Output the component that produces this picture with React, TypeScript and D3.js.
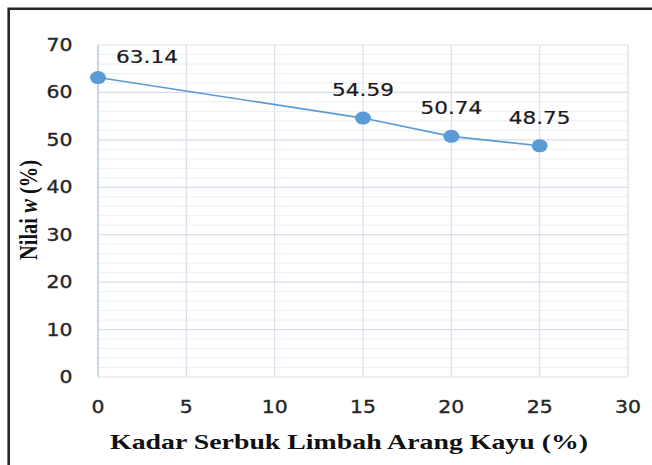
import * as React from 'react';
import * as d3 from 'd3';

// kadar serbuk limbah arang kayu (%)
const kadar = [0, 15, 20, 25];
// nilai w (%)
const nilaiW = [63.14, 54.59, 50.74, 48.75];
const xTicks = [0, 5, 10, 15, 20, 25, 30];
const yTicks = [0, 10, 20, 30, 40, 50, 60, 70];
const xTitle = 'Kadar Serbuk Limbah Arang Kayu (%)';

const width = 652;
const height = 465;
const plot = { left: 98, right: 628, top: 45, bottom: 377 };
const stretch = 1.2;
const lineColor = '#5b9bd5';

const App = () => {
    const node = React.useRef<SVGSVGElement | null>(null);

    React.useEffect(() => {
        const svg = d3.select(node.current);
        svg.selectAll('*').remove();

        const xScale = d3.scaleLinear().domain([0, 30]).range([plot.left, plot.right]);
        const yScale = d3.scaleLinear().domain([0, 70]).range([plot.bottom, plot.top]);

        svg.append('rect')
            .attr('width', width)
            .attr('height', height)
            .attr('fill', '#fff');

        // frame (only top and left visible)
        svg.append('path')
            .attr('d', `M8.7,${height} V8.7 H${width}`)
            .attr('fill', 'none')
            .attr('stroke', '#262626')
            .attr('stroke-width', 2.6);

        // minor horizontal grid every 2
        const minor = d3.range(0, 71, 2).filter(v => v % 10 !== 0);
        svg.append('g').selectAll('line')
            .data(minor)
            .join('line')
            .attr('x1', plot.left).attr('x2', plot.right)
            .attr('y1', d => yScale(d)).attr('y2', d => yScale(d))
            .attr('stroke', '#eceff5')
            .attr('stroke-width', 1);

        svg.append('g').selectAll('line')
            .data(yTicks)
            .join('line')
            .attr('x1', plot.left).attr('x2', plot.right)
            .attr('y1', d => yScale(d)).attr('y2', d => yScale(d))
            .attr('stroke', '#d9dfea')
            .attr('stroke-width', 1.2);

        svg.append('g').selectAll('line')
            .data(xTicks)
            .join('line')
            .attr('x1', d => xScale(d)).attr('x2', d => xScale(d))
            .attr('y1', plot.top).attr('y2', plot.bottom)
            .attr('stroke', d => d === 0 ? '#bccbe2' : '#d9dfea')
            .attr('stroke-width', d => d === 0 ? 1.6 : 1.2);

        // tick labels
        svg.append('g').selectAll('text')
            .data(yTicks)
            .join('text')
            .attr('transform', d => `translate(72.5,${yScale(d) + 6}) scale(${stretch},1)`)
            .attr('text-anchor', 'end')
            .attr('font-family', 'DejaVu Sans, sans-serif')
            .attr('font-size', 17)
            .attr('fill', '#262626')
            .attr('stroke', '#262626')
            .attr('stroke-width', 0.35)
            .text(d => d);

        svg.append('g').selectAll('text')
            .data(xTicks)
            .join('text')
            .attr('transform', d => `translate(${xScale(d)},413) scale(${stretch},1)`)
            .attr('text-anchor', 'middle')
            .attr('font-family', 'DejaVu Sans, sans-serif')
            .attr('font-size', 17)
            .attr('fill', '#262626')
            .attr('stroke', '#262626')
            .attr('stroke-width', 0.35)
            .text(d => d);

        // series line
        const pts = kadar.map((k, i) => [k, nilaiW[i]] as [number, number]);
        svg.append('path')
            .datum(pts)
            .attr('fill', 'none')
            .attr('stroke', lineColor)
            .attr('stroke-width', 1.6)
            .attr('d', d3.line<[number, number]>()
                .x(d => xScale(d[0]))
                .y(d => yScale(d[1])));

        svg.append('g').selectAll('ellipse')
            .data(pts)
            .join('ellipse')
            .attr('cx', d => xScale(d[0]))
            .attr('cy', d => yScale(d[1]))
            .attr('rx', 8)
            .attr('ry', 6.5)
            .attr('fill', lineColor);

        // data labels (first one sits to the right of its marker)
        svg.append('g').selectAll('text')
            .data(pts)
            .join('text')
            .attr('transform', (d, i) => {
                const dx = i === 0 ? 49 : 0;
                const dy = i === 0 ? -15 : -22;
                return `translate(${xScale(d[0]) + dx},${yScale(d[1]) + dy}) scale(${stretch},1)`;
            })
            .attr('text-anchor', 'middle')
            .attr('font-family', 'DejaVu Sans, sans-serif')
            .attr('font-size', 18)
            .attr('fill', '#1a1a1a')
            .attr('stroke', '#1a1a1a')
            .attr('stroke-width', 0.2)
            .text(d => d[1].toFixed(2));

        // axis titles
        const yTitle = svg.append('text')
            .attr('transform', `translate(37,210) rotate(-90) scale(1,${stretch})`)
            .attr('text-anchor', 'middle')
            .attr('font-family', 'Liberation Serif, Times New Roman, serif')
            .attr('font-weight', 'bold')
            .attr('font-size', 20.5)
            .attr('fill', '#111');
        yTitle.append('tspan').text('Nilai ');
        yTitle.append('tspan').attr('font-style', 'italic').text('w');
        yTitle.append('tspan').text(' (%)');

        svg.append('text')
            .attr('x', 110)
            .attr('y', 449)
            .attr('textLength', 478)
            .attr('lengthAdjust', 'spacingAndGlyphs')
            .attr('font-family', 'Liberation Serif, Times New Roman, serif')
            .attr('font-weight', 'bold')
            .attr('font-size', 21)
            .attr('fill', '#111')
            .text(xTitle);
    }, []);

    return <svg
        ref={node}
        width={width}
        height={height}
        style={{ position: 'absolute', left: 0, top: 0 }}>
    </svg>;
};

export default App;
